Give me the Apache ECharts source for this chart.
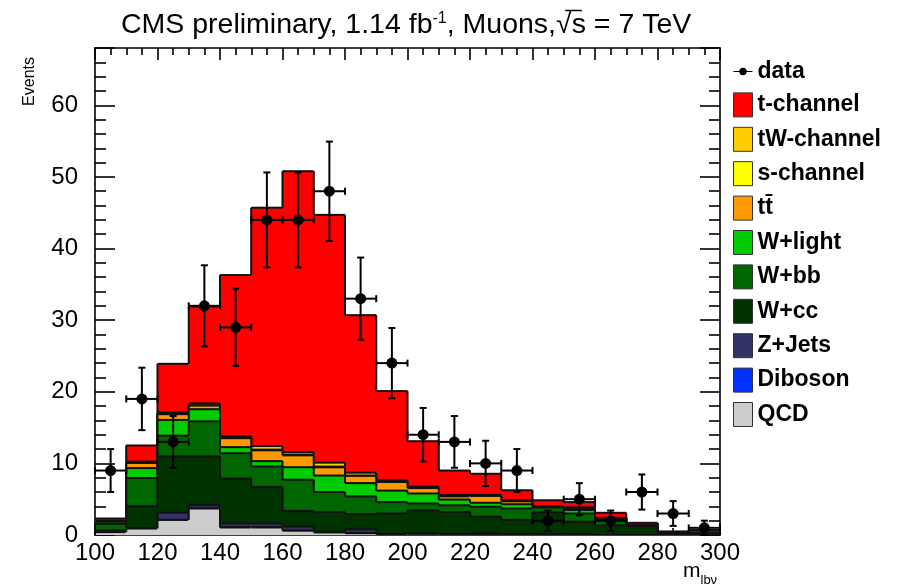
<!DOCTYPE html>
<html>
<head>
<meta charset="utf-8">
<script src="https://cdn.jsdelivr.net/npm/echarts@6/dist/echarts.min.js"></script>
<style>
  html, body { margin: 0; padding: 0; background: #ffffff; }
  #chart { width: 897px; height: 587px; }
</style>
</head>
<body>
<div id="chart"></div>
<script>
// Histogram binning: lower bin edges of m_lbv (GeV), 10 GeV wide
const binLowEdges = [100, 110, 120, 130, 140, 150, 160, 170, 180, 190,
                     200, 210, 220, 230, 240, 250, 260, 270, 280, 290];
const BIN_WIDTH = 10;

// Observed events and their statistical uncertainties
const dataCounts = [9, 19, 13, 32, 29, 44, 44, 48, 33, 24, 14, 13, 10, 9, 2, 5, 2, 6, 3, 1];
const dataErrors = [3.0, 4.36, 3.61, 5.66, 5.39, 6.63, 6.63, 6.93, 5.74, 4.9,
                    3.74, 3.61, 3.16, 3.0, 1.41, 2.24, 1.41, 2.45, 1.73, 1.0];

// Expected contributions per bin (stacked from QCD at the bottom to t-channel on top)
const qcd      = [0.4, 0.9, 2.1, 3.7, 1.05, 1.05, 0.6, 0.35, 0.25, 0.1, 0.15, 0.1, 0.05, 0.05, 0.05, 0.05, 0, 0, 0, 0];
const diboson  = [0, 0, 0.02, 0.02, 0.02, 0.02, 0.02, 0, 0, 0, 0, 0, 0, 0, 0, 0, 0, 0, 0, 0];
const zJets    = [0.1, 0.05, 1.0, 0.45, 0.55, 0.55, 0.55, 0.1, 0.55, 0.05, 0.05, 0.05, 0.2, 0.05, 0, 0, 0, 0, 0, 0];
const wcc      = [0.15, 3.05, 7.85, 6.8, 6.25, 5.1, 2.2, 2.75, 2.1, 2.85, 3.25, 3.05, 2.3, 2.0, 3.1, 1.8, 1.35, 1.25, 0.2, 0.25];
const wbb      = [0.9, 3.95, 2.9, 4.9, 3.55, 2.85, 4.35, 2.8, 2.5, 1.6, 0.95, 0.95, 1.4, 1.6, 0.7, 1.15, 0.7, 0.05, 0, 0.05];
const wLight   = [0.3, 1.4, 2.2, 1.7, 0.85, 0.75, 1.75, 2.3, 1.85, 1.6, 1.4, 0.8, 0.55, 0.6, 0.05, 0.5, 0.1, 0, 0, 0];
const ttbar    = [0.1, 0.7, 0.8, 0.5, 1.25, 1.5, 1.65, 1.15, 1.0, 1.2, 0.75, 0.45, 0.95, 0.4, 0.05, 0.25, 0.2, 0, 0.05, 0.3];
const sChannel = [0, 0.05, 0.05, 0.05, 0.05, 0.1, 0.1, 0.1, 0.05, 0.05, 0.05, 0.05, 0.05, 0.05, 0, 0, 0, 0, 0, 0];
const tWChannel= [0.05, 0.15, 0.2, 0.25, 0.2, 0.5, 0.35, 0.55, 0.4, 0.2, 0.15, 0.15, 0.1, 0.1, 0, 0.1, 0.05, 0, 0, 0];
const tChannel = [0.3, 2.25, 6.78, 13.53, 22.53, 33.28, 39.23, 34.6, 22.0, 12.45,
                  6.35, 3.4, 2.95, 1.4, 0.9, 0.75, 0.7, 0.4, 0.25, 0.1];

// Axis ticks
const xTicks = { min: 100, max: 300, step: 20 };
const yTicks = { min: 0, max: 68, step: 10 };

const FONT = 'Liberation Sans, Arial, Helvetica, sans-serif';
const OUTLINE = '#111111';
const OUTLINE_WIDTH = 2;

const stackLayers = [
  { name: 'QCD',        values: qcd,       color: '#cccccc' },
  { name: 'Diboson',    values: diboson,   color: '#0033ff' },
  { name: 'Z+Jets',     values: zJets,     color: '#333366' },
  { name: 'W+cc',       values: wcc,       color: '#003300' },
  { name: 'W+bb',       values: wbb,       color: '#006600' },
  { name: 'W+light',    values: wLight,    color: '#00cc00' },
  { name: 'tt\u0304',   values: ttbar,     color: '#ff9900' },
  { name: 's-channel',  values: sChannel,  color: '#ffff00' },
  { name: 'tW-channel', values: tWChannel, color: '#ffcc00' },
  { name: 't-channel',  values: tChannel,  color: '#ff0000' }
];

// Running sums: each layer is drawn as the cumulative histogram from zero
let running = binLowEdges.map(() => 0);
const cumulative = stackLayers.map(layer => {
  running = running.map((v, i) => v + layer.values[i]);
  return running.slice();
});

function renderLayer(params, api) {
  const x0 = api.value(0), x1 = api.value(1);
  const top = api.value(2), prevTop = api.value(3), isLast = api.value(4);
  const bl = api.coord([x0, 0]);
  const tr = api.coord([x1, top]);
  const yPrev = api.coord([x0, prevTop])[1];
  const color = api.visual('color');
  const lineStyle = () => ({ stroke: OUTLINE, lineWidth: OUTLINE_WIDTH, fill: null });
  // Fill overlaps its neighbours slightly so adjacent bins join without seams
  const pad = 0.6;
  const children = [
    { type: 'rect',
      shape: { x: bl[0] - pad, y: tr[1], width: tr[0] - bl[0] + 2 * pad, height: bl[1] - tr[1] },
      style: { fill: color, stroke: null, lineWidth: 0 } },
    { type: 'line', shape: { x1: bl[0], y1: tr[1], x2: tr[0], y2: tr[1] }, style: lineStyle() },
    { type: 'line', shape: { x1: bl[0], y1: yPrev, x2: bl[0], y2: tr[1] }, style: lineStyle() }
  ];
  if (isLast) {
    children.push({ type: 'line', shape: { x1: tr[0], y1: tr[1], x2: tr[0], y2: bl[1] }, style: lineStyle() });
  }
  return { type: 'group', children };
}

function renderData(params, api) {
  const xc = api.value(0), v = api.value(1), e = api.value(2);
  const c = api.coord([xc, v]);
  const lo = api.coord([xc, v - e]);
  const hi = api.coord([xc, v + e]);
  const left = api.coord([xc - BIN_WIDTH / 2, v]);
  const right = api.coord([xc + BIN_WIDTH / 2, v]);
  const cap = 3.5;
  const ls = () => ({ stroke: '#000', lineWidth: 2, fill: null });
  return {
    type: 'group',
    children: [
      { type: 'line', shape: { x1: c[0], y1: lo[1], x2: c[0], y2: hi[1] }, style: ls() },
      { type: 'line', shape: { x1: c[0] - cap, y1: lo[1], x2: c[0] + cap, y2: lo[1] }, style: ls() },
      { type: 'line', shape: { x1: c[0] - cap, y1: hi[1], x2: c[0] + cap, y2: hi[1] }, style: ls() },
      { type: 'line', shape: { x1: left[0], y1: c[1], x2: right[0], y2: c[1] }, style: ls() },
      { type: 'line', shape: { x1: left[0], y1: c[1] - cap, x2: left[0], y2: c[1] + cap }, style: ls() },
      { type: 'line', shape: { x1: right[0], y1: c[1] - cap, x2: right[0], y2: c[1] + cap }, style: ls() },
      { type: 'circle', shape: { cx: c[0], cy: c[1], r: 5.5 }, style: { fill: '#000', stroke: null } }
    ]
  };
}

// Stack series, drawn from the full sum downward so lower layers paint over it
const layerSeries = stackLayers.map((layer, k) => ({
  name: layer.name,
  type: 'custom',
  renderItem: renderLayer,
  clip: true,
  itemStyle: { color: layer.color },
  encode: { x: [0, 1], y: [2, 3] },
  data: binLowEdges.map((lo, i) => [
    lo, lo + BIN_WIDTH, cumulative[k][i],
    i === 0 ? 0 : cumulative[k][i - 1],
    i === binLowEdges.length - 1 ? 1 : 0
  ])
})).reverse();

const dataSeries = {
  name: 'data',
  type: 'custom',
  renderItem: renderData,
  clip: false,
  z: 5,
  itemStyle: { color: '#000' },
  encode: { x: 0, y: 1 },
  data: binLowEdges.map((lo, i) => [lo + BIN_WIDTH / 2, dataCounts[i], dataErrors[i]])
};

const tickColor = '#000';
function xAxisDef(position, showLabels) {
  return {
    type: 'value', position, min: xTicks.min, max: xTicks.max, interval: xTicks.step,
    axisLine: { show: true, onZero: false, lineStyle: { color: tickColor, width: 1.6 } },
    axisTick: { show: true, inside: true, length: 12, lineStyle: { color: tickColor, width: 1.6 } },
    minorTick: { show: true, splitNumber: 4, length: 7, lineStyle: { color: tickColor, width: 1.6 } },
    splitLine: { show: false },
    axisLabel: { show: showLabels, fontFamily: FONT, fontSize: 24, color: '#000', margin: 6 }
  };
}
function yAxisDef(position, showLabels) {
  return {
    type: 'value', position, min: yTicks.min, max: yTicks.max, interval: yTicks.step,
    axisLine: { show: true, onZero: false, lineStyle: { color: tickColor, width: 1.6 } },
    axisTick: { show: true, inside: true, length: 20, lineStyle: { color: tickColor, width: 1.6 } },
    minorTick: { show: true, splitNumber: 5, length: 11, lineStyle: { color: tickColor, width: 1.6 } },
    splitLine: { show: false },
    axisLabel: { show: showLabels, showMaxLabel: false, fontFamily: FONT, fontSize: 24, color: '#000', margin: 17 }
  };
}

const legendNames = ['data'].concat(stackLayers.map(l => l.name).reverse());

// Title pieces; the overline of the square root is placed from measured text widths
const TITLE_LEFT = 116, TITLE_SIZE = 28.5, SUP_SIZE = 16;
const titleHead = 'CMS preliminary, 1.14 fb', titleSup = '-1', titleMid = ', Muons,', titleRoot = '\u221a', titleRad = 's', titleTail = ' = 7 TeV';
const measureCtx = document.createElement('canvas').getContext('2d');
function textWidth(t, size) { measureCtx.font = size + 'px ' + FONT; return measureCtx.measureText(t).width; }
const rootStart = TITLE_LEFT + textWidth(titleHead, TITLE_SIZE) + textWidth(titleSup, SUP_SIZE) + textWidth(titleMid, TITLE_SIZE);
const rootEnd = rootStart + textWidth(titleRoot, TITLE_SIZE);
const radEnd = rootEnd + textWidth(titleRad, TITLE_SIZE);

const chart = echarts.init(document.getElementById('chart'), null, { renderer: 'canvas' });
chart.setOption({
  animation: false,
  backgroundColor: '#ffffff',
  textStyle: { fontFamily: FONT },
  title: {
    text: titleHead + '{sup|' + titleSup + '}' + titleMid + titleRoot + titleRad + titleTail,
    left: TITLE_LEFT, top: 6,
    textStyle: {
      fontFamily: FONT, fontSize: TITLE_SIZE, fontWeight: 'normal', color: '#000',
      rich: { sup: { fontFamily: FONT, fontSize: SUP_SIZE, verticalAlign: 'top', color: '#000' } }
    }
  },
  grid: { left: 95, right: 177, top: 48, bottom: 52, containLabel: false },
  xAxis: [xAxisDef('bottom', true), xAxisDef('top', false)],
  yAxis: [yAxisDef('left', true), yAxisDef('right', false)],
  legend: {
    orient: 'vertical', left: 728, top: 55,
    itemWidth: 19, itemHeight: 24, itemGap: 9.4,
    icon: 'rect', selectedMode: false,
    itemStyle: { borderColor: '#333', borderWidth: 1 },
    textStyle: { fontFamily: FONT, fontSize: 23, fontWeight: 'bold', color: '#000' },
    data: legendNames.map(n => n === 'data'
      ? { name: n, icon: 'path://M0,7 L36,7 L36,9 L0,9 Z M11,8 A7,7 0 1,1 25,8 A7,7 0 1,1 11,8 Z',
          itemStyle: { color: '#000', borderWidth: 0 } }
      : { name: n })
  },
  graphic: [
    { type: 'line', shape: { x1: rootEnd - 1.5, y1: 10.5, x2: radEnd + 1, y2: 10.5 },
      style: { stroke: '#000', lineWidth: 1.5 } },
    { type: 'text', x: 38, y: 57, rotation: Math.PI / 2,
      style: { text: 'Events', fontFamily: FONT, fontSize: 16, fill: '#000', align: 'right', verticalAlign: 'bottom' } },
    { type: 'text', x: 683, y: 582,
      style: { text: 'm{sub|lb\u03bd}', fontFamily: FONT, fontSize: 21, fill: '#000', verticalAlign: 'bottom',
               rich: { sub: { fontFamily: FONT, fontSize: 13, verticalAlign: 'bottom', padding: [0, 0, -5, 0] } } } }
  ],
  series: layerSeries.concat([dataSeries])
});
</script>
</body>
</html>
